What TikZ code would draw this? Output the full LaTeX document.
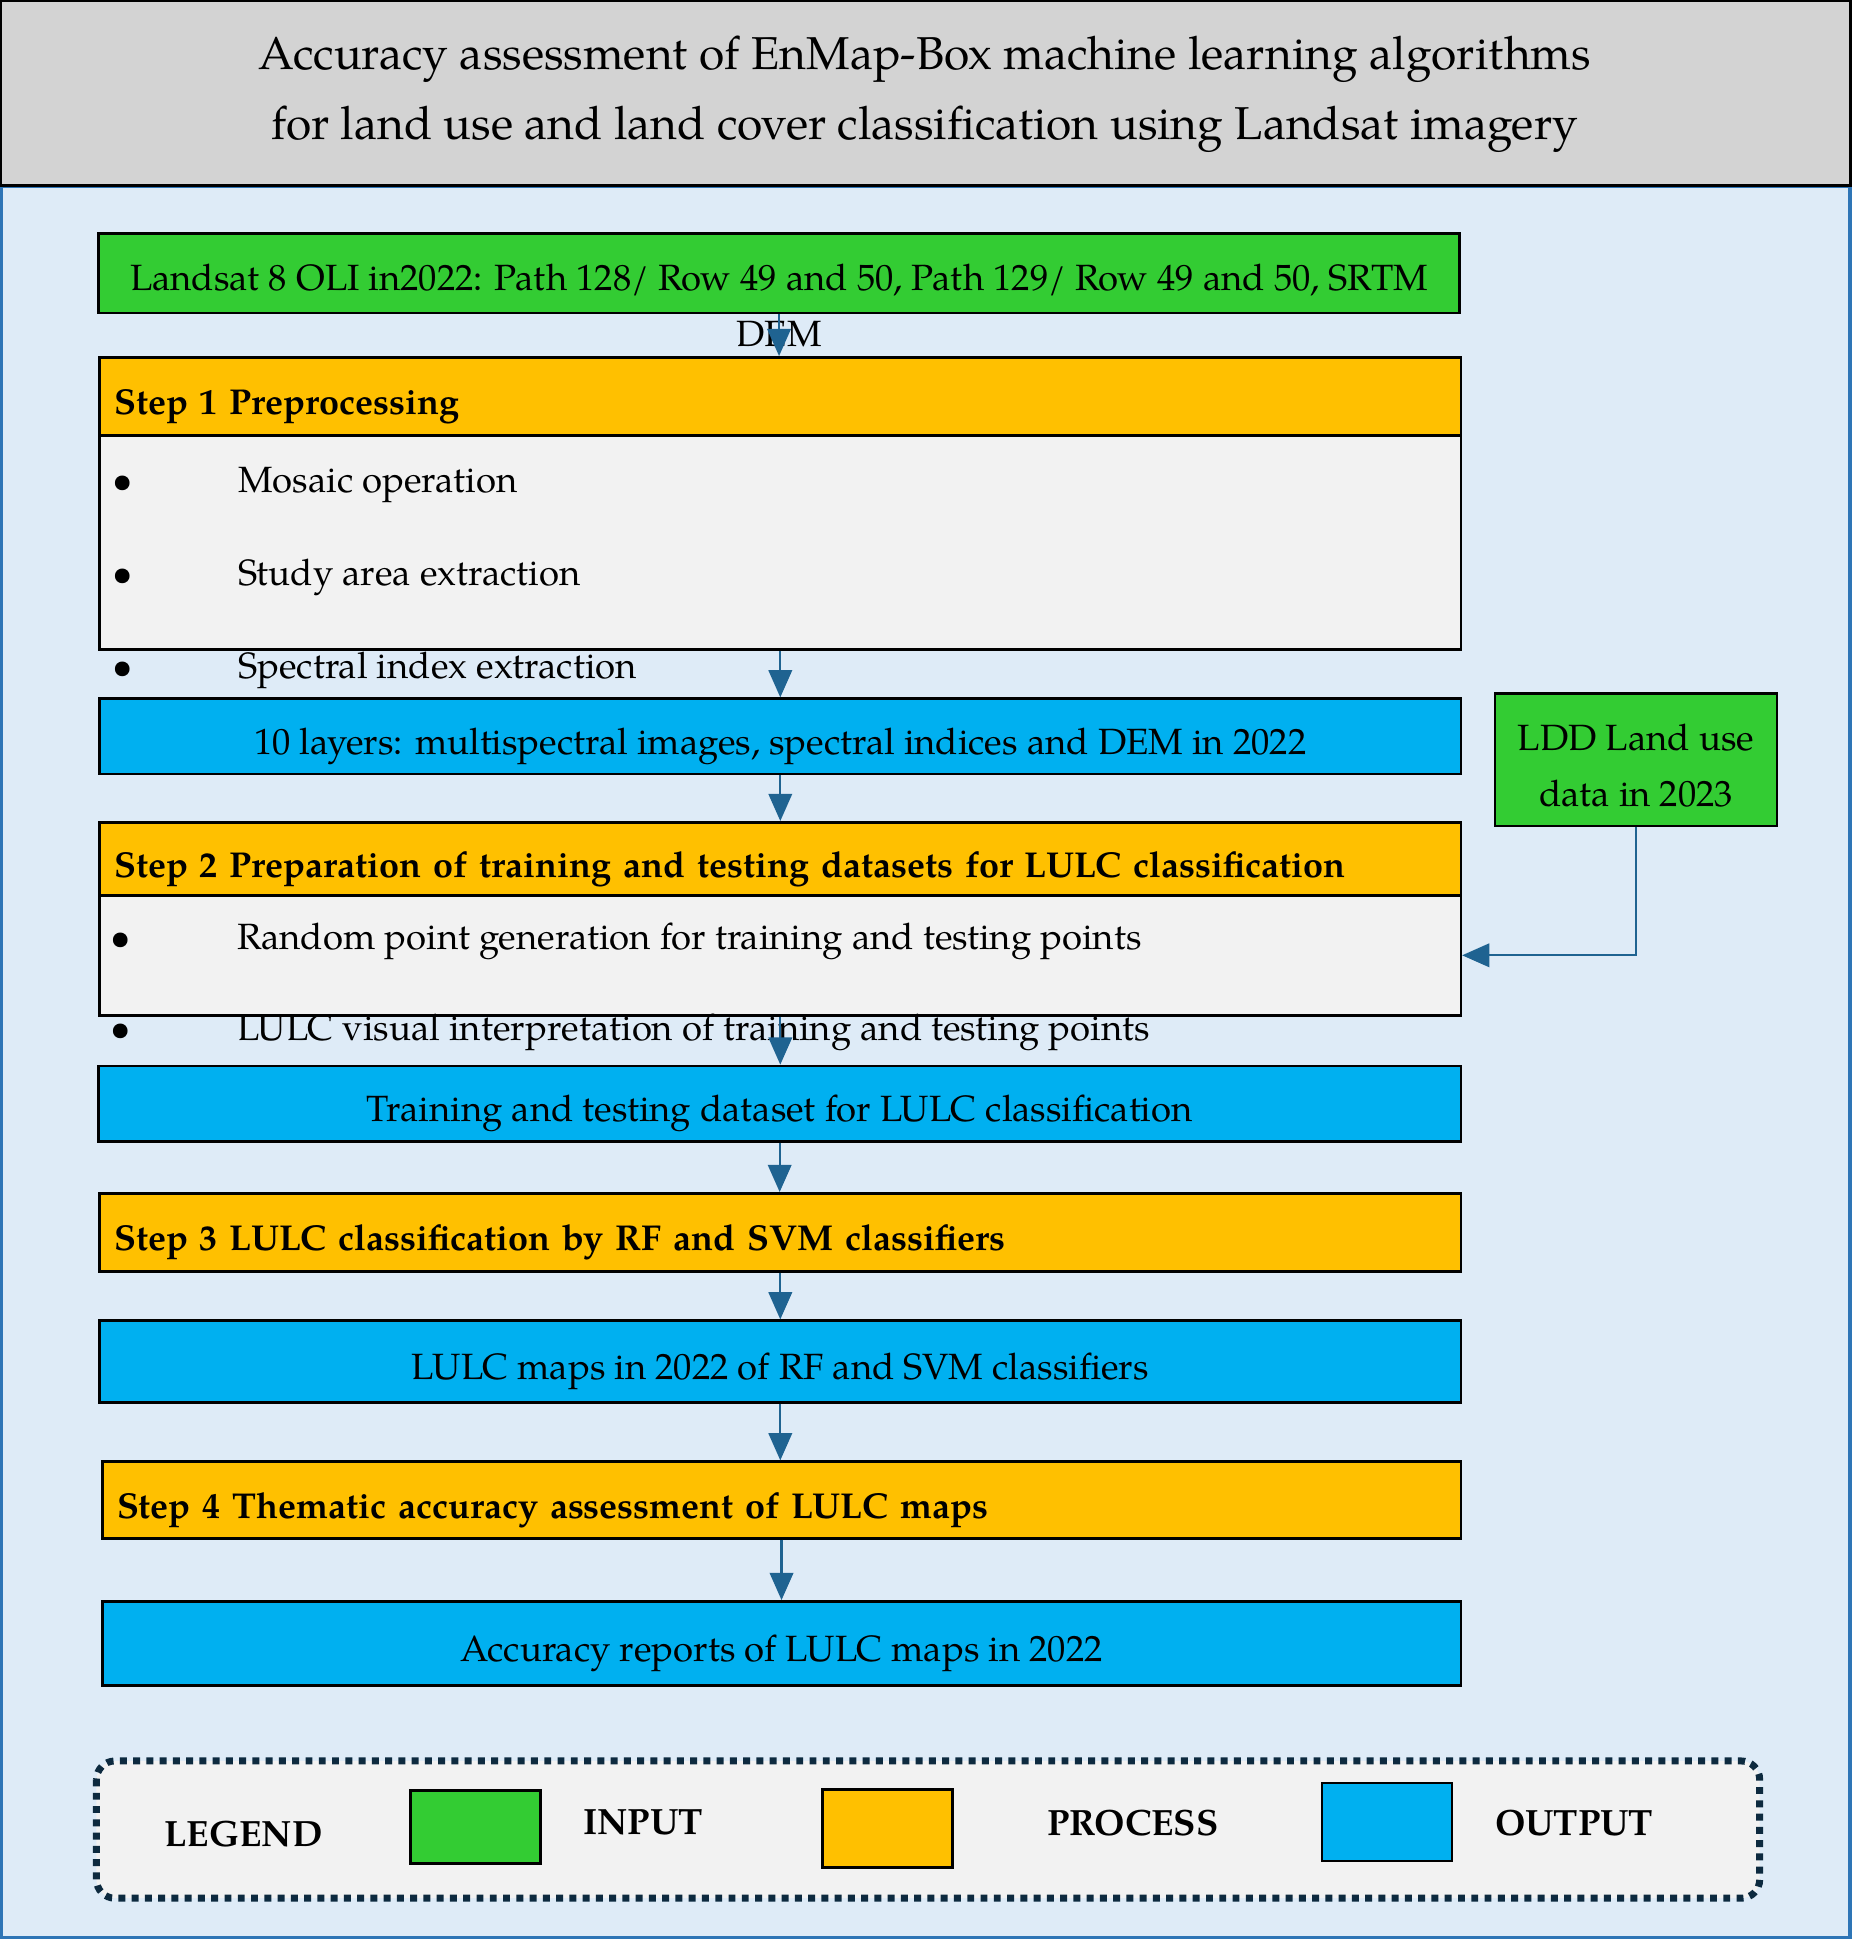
\documentclass[tikz,border=0pt]{standalone}
\usepackage{fontspec}
\setmainfont{texgyrepagella}[Extension=.otf,UprightFont=*-regular,BoldFont=*-bold,ItalicFont=*-italic,BoldItalicFont=*-bolditalic]
\usepackage{tikz}
\usetikzlibrary{arrows.meta}
\definecolor{titlegray}{HTML}{D3D3D3}
\definecolor{backblue}{HTML}{DEEBF7}
\definecolor{frameblue}{HTML}{2E75B6}
\definecolor{ingreen}{HTML}{33CC33}
\definecolor{procorange}{HTML}{FFC000}
\definecolor{outblue}{HTML}{00B0F0}
\definecolor{listgray}{HTML}{F2F2F2}
\definecolor{arrowblue}{HTML}{1F6391}
\definecolor{legendnavy}{HTML}{0D2A3F}

\begin{document}
\begin{tikzpicture}[x=0.01cm,y=-0.01cm,
	every node/.style={inner sep=0pt,font=\fontsize{8.4}{13}\selectfont},
	box/.style={draw=black,line width=0.6pt,minimum width=11cm},
	inbox/.style={box,fill=ingreen},
	stepbox/.style={box,fill=procorange,text width=10.76cm,align=left,text height=8.4pt,text depth=0pt,font=\fontsize{8.27}{13}\selectfont\bfseries},
	listbox/.style={box,fill=listgray},
	outbox/.style={box,fill=outblue,align=center,text height=8.4pt,text depth=0pt},
	arr/.style={draw=arrowblue,line width=0.5pt,-{Triangle[length=0.22cm,width=0.19cm]}},
	legtext/.style={font=\fontsize{8.4}{13}\selectfont\bfseries}]
\useasboundingbox (0,0) rectangle (1497,1568);

%frame
\draw[fill=backblue,draw=frameblue,line width=1pt] (0.5,150) rectangle (1496.5,1567.5);
\draw[fill=titlegray,draw=black,line width=0.8pt] (0.5,0.5) rectangle (1496.5,150);
\node[align=center,font=\fontsize{10.6}{16.2}\selectfont] (title) at (748,76)
	{Accuracy assessment of EnMap-Box machine learning algorithms\\for land use and land cover classification using Landsat imagery};

%boxes
\node[inbox,minimum height=0.64cm] (landsat) at (630,221) {};
\node[stepbox,minimum height=0.63cm] (step1h) at (631,320.5) {Step 1 Preprocessing};
\node[listbox,minimum height=1.73cm] (step1b) at (631,438.5) {};
\node[outbox,minimum height=0.61cm] (layers) at (631,595.5) {10 layers: multispectral images, spectral indices and DEM in 2022};
\node[stepbox,minimum height=0.59cm] (step2h) at (631,694.5) {Step 2 Preparation of training and testing datasets for LULC classification};
\node[listbox,minimum height=0.97cm] (step2b) at (631,772.5) {};
\node[inbox,minimum width=2.28cm,minimum height=1.07cm] (ldd) at (1323,614.5) {};
\node[outbox,minimum width=11.01cm,minimum height=0.61cm] (dataset) at (630.5,892.5) {Training and testing dataset for LULC classification};
\node[stepbox,minimum height=0.63cm] (step3) at (631,996.5) {Step 3 LULC classification by RF and SVM classifiers};
\node[outbox,minimum height=0.66cm] (maps) at (631,1101) {LULC maps in 2022 of RF and SVM classifiers};
\node[stepbox,minimum width=10.98cm,text width=10.74cm,minimum height=0.62cm] (step4) at (632,1213) {Step 4 Thematic accuracy assessment of LULC maps};
\node[outbox,minimum width=10.98cm,minimum height=0.68cm] (reports) at (632,1329) {Accuracy reports of LULC maps in 2022};

%texts running out of the boxes
\node[align=center] (landsattxt) at (630,247) {Landsat 8 OLI in2022: Path 128/ Row 49 and 50, Path 129/ Row 49 and 50, SRTM\\DEM};
\node[align=center] (lddtxt) at (1323,619) {LDD Land use\\data in 2023};
\foreach \txt [count=\i] in {Mosaic operation,Study area extraction,Spectral index extraction}{
	\pgfmathsetmacro{\yb}{398+75.5*(\i-1)}
	\node[anchor=base] (dotA\i) at (99,\yb) {\textbullet};
	\node[anchor=base west] (itemA\i) at (192,\yb) {\txt};}
\foreach \txt [count=\i] in {Random point generation for training and testing points,LULC visual interpretation of training and testing points}{
	\pgfmathsetmacro{\yb}{768+73*(\i-1)}
	\node[anchor=base] (dotB\i) at (98,\yb) {\textbullet};
	\node[anchor=base west] (itemB\i) at (191,\yb) {\txt};}

%arrows
\foreach \a/\b in {landsat/step1h,step1b/layers,layers/step2h,step2b/dataset,dataset/step3,step3/maps,maps/step4,step4/reports}
	\draw[arr] (\a.south) -- (\a.south |- \b.north);
\draw[arr] (ldd.south) |- (step2b.east);

%legend
\draw[fill=listgray,draw=legendnavy,line width=1.6pt,dash pattern=on 1.6pt off 1.45pt,rounded corners=0.15cm] (78,1424) rectangle (1423,1535);
\node[legtext] (legend) at (197,1483) {LEGEND};
\node[box,fill=ingreen,minimum width=1.05cm,minimum height=0.59cm] (keyin) at (384.5,1477.5) {};
\node[legtext] (keyintxt) at (520,1474) {INPUT};
\node[box,fill=procorange,minimum width=1.05cm,minimum height=0.63cm] (keyproc) at (717.5,1478.5) {};
\node[legtext] (keyproctxt) at (916,1474) {PROCESS};
\node[box,fill=outblue,minimum width=1.05cm,minimum height=0.63cm] (keyout) at (1121.5,1473.5) {};
\node[legtext] (keyouttxt) at (1273,1474) {OUTPUT};
\end{tikzpicture}
\end{document}
